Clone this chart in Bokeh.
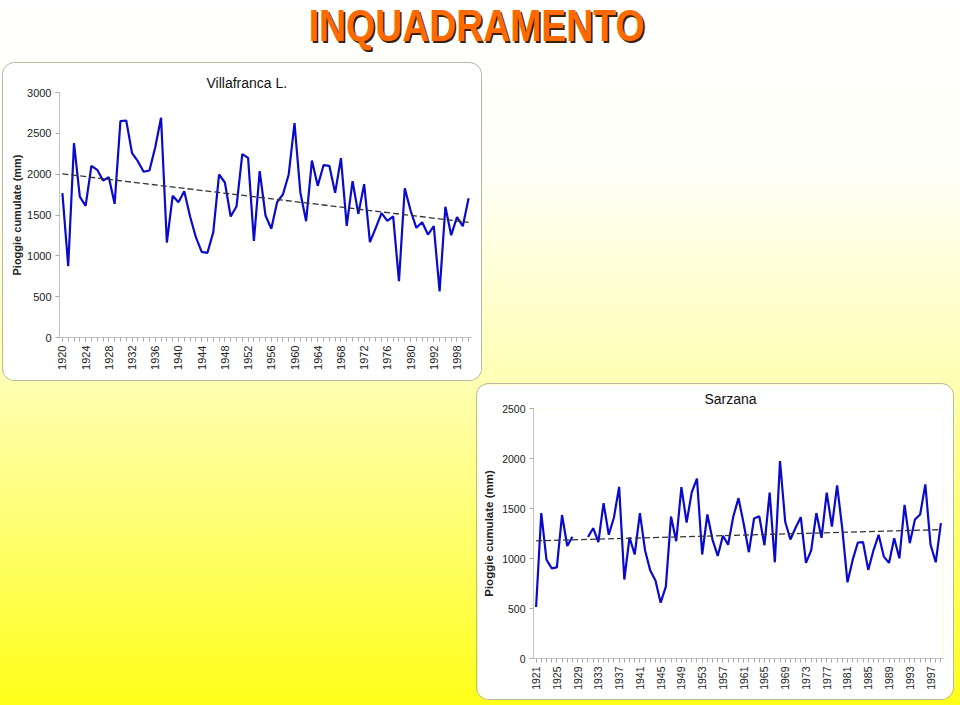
import numpy as np
from bokeh.plotting import figure
from bokeh.models import Div, FixedTicker, Range1d
from bokeh.layouts import column
from bokeh.embed import file_html
from bokeh.resources import INLINE

NaN = float("nan")

# ---------------- data ----------------
vf_years = [str(y) for y in range(1920, 1981)] + ["1989", "1990", "1991", "1992", "1994",
                                                    "1995", "1997", "1998", "1999", "2000"]
vf_rain = [1767, 873, 2379, 1726, 1612, 2102, 2053, 1922, 1963, 1637,
           2649, 2657, 2257, 2159, 2029, 2045, 2330, 2690, 1163, 1735,
           1657, 1792, 1482, 1228, 1049, 1037, 1290, 1996, 1898, 1482,
           1604, 2245, 2200, 1184, 2037, 1494, 1331, 1657, 1751, 1996,
           2624, 1779, 1424, 2167, 1857, 2110, 2102, 1771, 2196, 1367,
           1914, 1514, 1877, 1167, 1343, 1522, 1429, 1482, 690, 1828,
           1555, 1343, 1412, 1261, 1363, 563, 1600, 1253, 1473, 1363,
           1706]

sz_years = [str(y) for y in range(1921, 2000)]
sz_rain = [515, 1454, 989, 902, 912, 1435, 1125, 1218, NaN, NaN,
           1215, 1303, 1165, 1554, 1238, 1410, 1716, 790, 1210, 1040,
           1454, 1080, 879, 779, 558, 719, 1420, 1173, 1714, 1360,
           1664, 1798, 1040, 1440, 1187, 1026, 1228, 1138, 1420, 1604,
           1347, 1063, 1400, 1423, 1133, 1658, 962, 1975, 1367, 1190,
           1307, 1413, 956, 1080, 1454, 1207, 1658, 1320, 1731, 1297,
           762, 986, 1160, 1163, 886, 1080, 1237, 1019, 956, 1203,
           1002, 1537, 1153, 1390, 1440, 1741, 1140, 962, 1353]

Y_LABEL = "Pioggie cumulate (mm)"
FONT = "Liberation Sans"


def make_chart(title, cats, vals, ymax, ystep, width, height, borders, tick_size,
               title_size, label_size, title_offset, label_standoff):
    n = len(cats)
    xs = list(range(n))
    lb, tb, rb, bb = borders
    p = figure(width=width, height=height,
               x_range=Range1d(-0.5, n - 0.5), y_range=Range1d(0, ymax),
               output_backend="svg", toolbar_location=None,
               min_border_left=lb, min_border_top=tb, min_border_right=rb,
               min_border_bottom=bb,
               background_fill_color="white", border_fill_color="white",
               outline_line_color=None,
               styles={"border-radius": "12px", "overflow": "hidden",
                       "box-shadow": "0 0 0 1px #B8B8A6"})
    p.grid.visible = False

    p.line(xs, vals, line_color="#0A0ACC", line_width=2.2)

    xa = np.array(xs, dtype=float)
    ya = np.array(vals, dtype=float)
    ok = ~np.isnan(ya)
    k, b = np.polyfit(xa[ok], ya[ok], 1)
    p.line([xa[0], xa[-1]], [k * xa[0] + b, k * xa[-1] + b],
           line_color="#333333", line_width=1.3, line_dash="6 3")

    # x axis (category style)
    xaxis = p.xaxis[0]
    xaxis.ticker = FixedTicker(ticks=list(range(0, n, 4)), minor_ticks=list(range(n)))
    xaxis.major_label_overrides = {i: cats[i] for i in range(0, n, 4)}
    xaxis.major_label_orientation = np.pi / 2
    xaxis.axis_line_color = "#C4C4C4"
    xaxis.major_tick_line_color = "#AAAAAA"
    xaxis.minor_tick_line_color = "#AAAAAA"
    xaxis.major_tick_out = 4
    xaxis.major_tick_in = 0
    xaxis.minor_tick_out = 4
    xaxis.minor_tick_in = 0
    xaxis.major_label_standoff = 4
    xaxis.major_label_text_font = FONT
    xaxis.major_label_text_font_size = tick_size
    xaxis.major_label_text_color = "#222222"

    # y axis
    yaxis = p.yaxis[0]
    yaxis.ticker = FixedTicker(ticks=list(range(0, ymax + 1, ystep)), minor_ticks=[])
    yaxis.axis_line_color = "#C4C4C4"
    yaxis.major_tick_line_color = "#AAAAAA"
    yaxis.major_tick_out = 4
    yaxis.major_tick_in = 0
    yaxis.major_label_standoff = 4
    yaxis.major_label_text_font = FONT
    yaxis.major_label_text_font_size = tick_size
    yaxis.major_label_text_color = "#222222"
    yaxis.axis_label = Y_LABEL
    yaxis.axis_label_text_font = FONT
    yaxis.axis_label_text_font_style = "bold"
    yaxis.axis_label_text_font_size = label_size
    yaxis.axis_label_text_color = "#222222"
    yaxis.axis_label_standoff = label_standoff

    p.title.text = title
    p.title.align = "left"
    p.title.offset = title_offset
    p.title.text_font = FONT
    p.title.text_font_style = "normal"
    p.title.text_font_size = title_size
    p.title.text_color = "#111111"
    p.title.standoff = 4
    return p


p1 = make_chart("Villafranca L.", vf_years, vf_rain, 3000, 500, 478, 317,
                (56, 29, 10, 43), "11px", "14px", "11px", 147, 1)
p1.margin = (0, 0, 0, 3)

p2 = make_chart("Sarzana", sz_years, sz_rain, 2500, 500, 476, 315,
                (56, 24, 10, 41), "10.5px", "14px", "11.5px", 171, 4)
p2.margin = (4, 0, 0, 477)

title_html = (
    "<div style=\"width:960px; margin:0; padding:4px 0 0 0; text-align:center;\">"
    "<span style=\"display:inline-block; transform:scaleX(0.85); transform-origin:50% 50%; "
    "margin-left:-6px; font-family:'Liberation Sans',Arial,sans-serif; "
    "font-weight:bold; font-size:44px; line-height:44px; color:#FF6A00; "
    "text-shadow:2px 2px 0 #3a2200;\">INQUADRAMENTO</span></div>"
)
head = Div(text=title_html, width=960, height=63, margin=(0, 0, 0, 0))

page = column(head, p1, p2, width=960, height=705, spacing=0,
              margin=(0, 0, 0, 0),
              styles={"background": "linear-gradient(to bottom, #FFFFFF 0%, #FFFFF6 25%, "
                                    "#FFFFB4 54%, #FFFF70 75%, #FFFF18 100%)"})

open("out.html", "w").write(file_html(page, INLINE, title="INQUADRAMENTO"))
